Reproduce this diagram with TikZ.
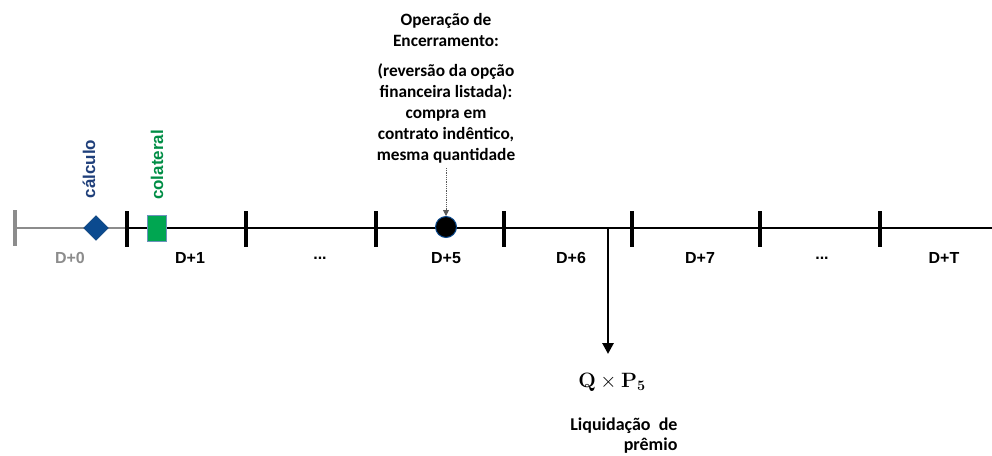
\documentclass[tikz,border=0pt]{standalone}
\usepackage[no-math]{fontspec}
\usepackage{amsmath,bm}
\setmainfont{Carlito}
\newfontfamily\arialf{Liberation Sans}
\usetikzlibrary{arrows.meta,shapes.geometric}
\definecolor{navy}{HTML}{1F3F7A}
\definecolor{diamondblue}{HTML}{0B4A8F}
\definecolor{colgreen}{HTML}{00A651}
\definecolor{greyline}{HTML}{8C8C8C}
\tikzset{
  lbl/.style={font=\arialf\fontsize{16}{19}\selectfont\bfseries, anchor=center},
  tickmark/.style={line width=3.2pt},
  axis/.style={line width=2.8pt},
}
\begin{document}
\begin{tikzpicture}[x=1pt,y=-1pt]
\useasboundingbox (0,0) rectangle (992,455);
% grey segment
\coordinate (g0) at (15,228);
\coordinate (t1) at (127,228);
\draw[axis,greyline] (g0) -- (t1);
\draw[tickmark,greyline] (15,210) -- (15,246);
% black axis
\coordinate (end) at (992,228);
\draw[axis] (t1) -- (end);
\foreach \x in {127,246,376,504,632,760,880}{
  \draw[tickmark] (\x,211) -- (\x,247);
}
% labels
\node[lbl,text=greyline] (l0) at (70,258) {D+0};
\node[lbl] (l1) at (190,258) {D+1};
\node[lbl] (l2) at (320,258) {...};
\node[lbl] (l5) at (446,258) {D+5};
\node[lbl] (l6) at (571,258) {D+6};
\node[lbl] (l7) at (700,258) {D+7};
\node[lbl] (l8) at (822,258) {...};
\node[lbl] (lT) at (944,258) {D+T};
% diamond
\node[diamond,fill=diamondblue,draw=diamondblue!80!black,minimum size=25pt,inner sep=0pt] (dia) at (96,228) {};
% green square
\node[rectangle,fill=colgreen,draw=diamondblue!60,line width=0.6pt,minimum width=19pt,minimum height=26pt,inner sep=0pt] (sq) at (156.5,228) {};
% rotated labels
\node[rotate=90,text=navy,font=\arialf\fontsize{17}{20}\selectfont\bfseries,anchor=center] (calc) at (89,169) {cálculo};
\node[rotate=90,text=colgreen!85!black,font=\arialf\fontsize{17}{20}\selectfont\bfseries,anchor=center] (colat) at (157,165) {colateral};
% circle
\node[circle,fill=black,draw=diamondblue,line width=1pt,minimum size=21pt,inner sep=0pt] (circ) at (446,227) {};
% top text
\node[font=\fontsize{17.3}{21}\selectfont\bfseries,align=center,anchor=north] (op) at (446,10) {Operação de\\Encerramento:};
\node[font=\fontsize{17.3}{21}\selectfont\bfseries,align=center,anchor=north] (desc) at (446,60) {(reversão da opção\\financeira listada):\\compra em\\contrato indêntico,\\mesma quantidade};
\coordinate (arrstart) at (446,168);
\draw[densely dotted,gray!70!black,line width=0.8pt,-{Triangle[length=6pt,width=6pt]}] (arrstart) -- (circ.north);
% down arrow
\coordinate (dstart) at (608,228);
\coordinate (dend) at (608,354);
\draw[line width=2.8pt,-{Triangle[length=11pt,width=11pt]}] (dstart) -- (dend);
\node[font=\fontsize{20}{24}\selectfont] (qp) at (612,382) {$\mathbf{Q}\times\mathbf{P}_{\mathbf{5}}$};
\node[font=\fontsize{18}{20}\selectfont\bfseries,align=right,anchor=north east] (liq) at (681,414) {Liquidação\ \ de\\prêmio};
\end{tikzpicture}
\end{document}
